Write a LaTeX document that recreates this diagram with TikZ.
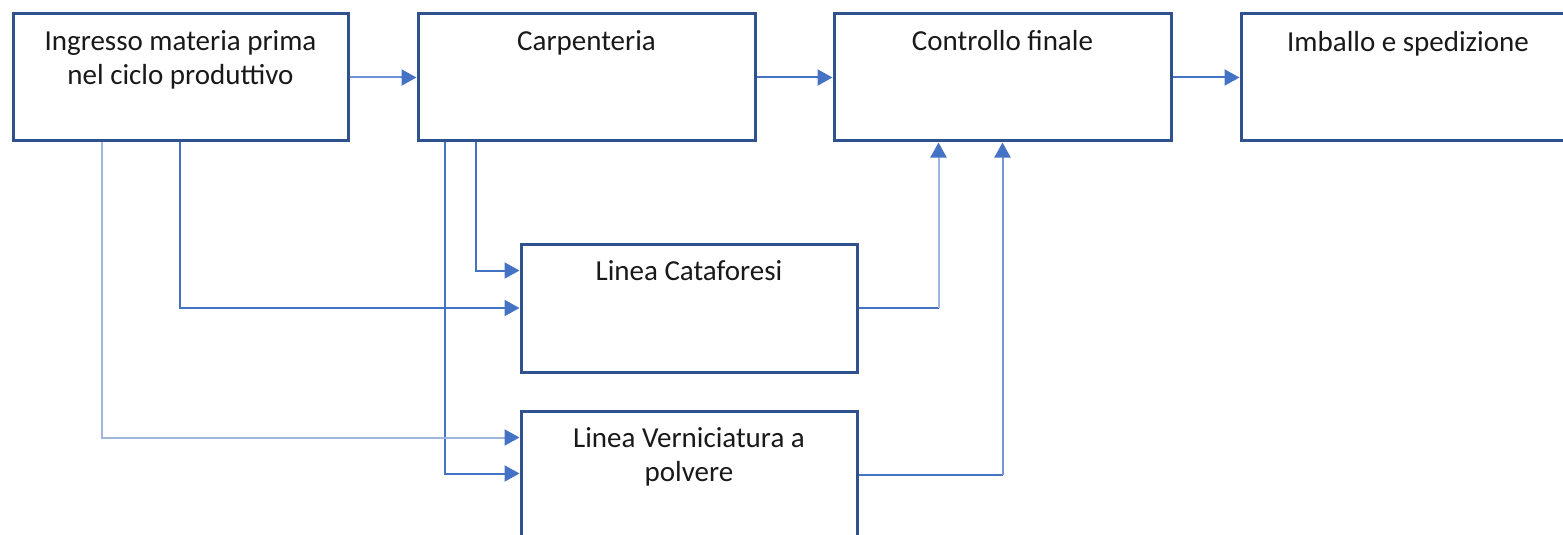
\documentclass[tikz,border=0pt]{standalone}
\usepackage{fontspec}
\setmainfont{Carlito}
\usetikzlibrary{arrows.meta,calc}
\definecolor{boxc}{HTML}{2F528F}
\definecolor{conn}{HTML}{4472C4}
\definecolor{lightc}{HTML}{A0B6E0}
\definecolor{midc}{HTML}{7497D5}
\definecolor{abc}{HTML}{6F92D2}
\begin{document}
\begin{tikzpicture}[x=0.5pt,y=-0.5pt,
  box/.style={draw=boxc, line width=1.5pt, rectangle, inner sep=0pt, fill=white},
  txt/.style={anchor=base, inner sep=0pt, font=\fontsize{14.5}{17}\selectfont, text=black!90},
  tipc/.style={-{Triangle[length=7.5pt,width=8pt,color=conn]}},
  link/.style={line width=1pt, draw=conn}
]
\useasboundingbox (0,0) rectangle (1563,535);
\begin{scope}
\clip (0,0) rectangle (1563,535);
\node[box, minimum width=167.5pt, minimum height=63.5pt,
  label={[txt, name=Al1, yshift=-19pt]north:Ingresso materia prima},
  label={[txt, name=Al2, yshift=-36pt]north:nel ciclo produttivo}] (A) at (180.5,77.5) {};
\node[box, minimum width=168.5pt, minimum height=63.5pt,
  label={[txt, name=Bl, yshift=-19pt]north:Carpenteria}] (B) at (586.5,77.5) {};
\node[box, minimum width=168.5pt, minimum height=63.5pt,
  label={[txt, name=Cl, yshift=-19pt]north:Controllo finale}] (C) at (1002.5,77.5) {};
\node[box, minimum width=400pt, minimum height=63.5pt] (D) at (1641,77.5) {};
\node[txt] (Dl) at (1408,52) {Imballo e spedizione};
\node[box, minimum width=168pt, minimum height=64pt,
  label={[txt, name=El, yshift=-19pt]north:Linea Cataforesi}] (E) at (689,308) {};
\node[box, minimum width=168pt, minimum height=64pt,
  label={[txt, name=Fl1, yshift=-19pt]north:Linea Verniciatura a},
  label={[txt, name=Fl2, yshift=-36pt]north:polvere}] (F) at (689,475) {};

% top row
\draw[link, draw=abc, tipc] (A.east) -- (B.west);
\draw[link, tipc] (B.east) -- (C.west);
\draw[link, tipc] (C.east) -- (D.west);

% down from Carpenteria
\draw[link, tipc] ($(B.south west)+(59,0)$) |- ($(E.north west)+(0,28)$);
\draw[link, tipc] ($(B.south west)+(28,0)$) |- ($(F.north west)+(0,64)$);
% down from Ingresso
\draw[link, tipc] ($(A.south west)+(168,0)$) |- (E.west);
\draw[link, draw=lightc, tipc] ($(A.south west)+(90,0)$) |- ($(F.north west)+(0,28)$);

% up to Controllo finale
\coordinate (c1) at ($(C.south west)+(106,0)$);
\coordinate (k1) at (c1 |- E.east);
\draw[link] (E.east) -- (k1);
\draw[link, draw=lightc, tipc] (k1) -- (c1);
\coordinate (k2) at (C.south |- F.east);
\draw[link] (F.east) -- (k2);
\draw[link, draw=midc, tipc] (k2) -- (C.south);
\end{scope}
\end{tikzpicture}
\end{document}
